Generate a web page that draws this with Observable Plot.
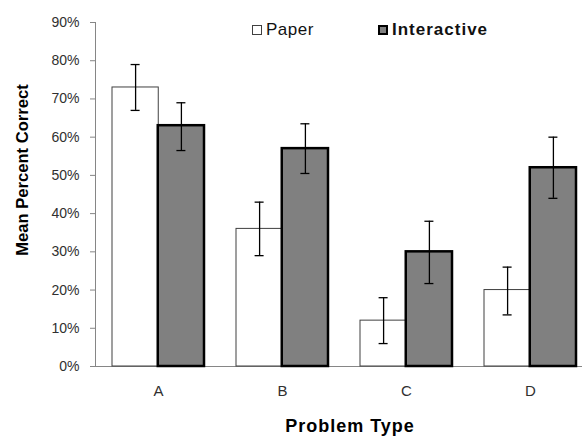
<!DOCTYPE html>
<html>
<head>
<meta charset="utf-8">
<script src="https://cdn.jsdelivr.net/npm/d3@7"></script>
<script src="https://cdn.jsdelivr.net/npm/@observablehq/plot@0.6"></script>
<style>
  body { margin: 0; background: #fff; font-family: Arial, "Liberation Sans", sans-serif; }
  #wrap { position: relative; width: 582px; height: 439px; overflow: hidden; background: #fff; }
  .lg { position: absolute; top: 21px; display: flex; align-items: center; font-size: 17px; line-height: 17px; color: #111; white-space: nowrap; }
  .sw { display: inline-block; width: 10px; height: 10px; box-sizing: border-box; margin-right: 4px; }
  .sw.paper { background: #fff; border: 1px solid #404040; }
  .sw.inter { background: #808080; border: 2px solid #000; }
  .ytitle { position: absolute; left: 22px; top: 170px; transform: translate(-50%, -50%) rotate(-90deg); font-size: 16.6px; font-weight: bold; line-height: 17px; white-space: nowrap; color: #000; }
  .xtitle { position: absolute; left: 350px; top: 416.8px; transform: translateX(-50%); font-size: 18px; letter-spacing: 1px; font-weight: bold; line-height: 18px; white-space: nowrap; color: #000; }
</style>
</head>
<body>
<div id="wrap">
  <div id="chart"></div>
  <div class="lg" style="left:252px;letter-spacing:0.5px"><span class="sw paper"></span>Paper</div>
  <div class="lg" style="left:378px;font-weight:bold;letter-spacing:1px"><span class="sw inter"></span>Interactive</div>
  <div class="ytitle">Mean Percent Correct</div>
  <div class="xtitle">Problem Type</div>
</div>
<script>
const categories = ["A", "B", "C", "D"];
const paper = [0.73, 0.36, 0.12, 0.20];
const paperLow = [0.67, 0.29, 0.06, 0.135];
const paperHigh = [0.79, 0.43, 0.18, 0.26];
const interactive = [0.63, 0.57, 0.30, 0.52];
const interactiveLow = [0.565, 0.505, 0.217, 0.44];
const interactiveHigh = [0.69, 0.635, 0.38, 0.60];
const yTicks = [0, 0.1, 0.2, 0.3, 0.4, 0.5, 0.6, 0.7, 0.8, 0.9];

const rows = categories.map((c, i) => ({
  cat: c,
  paper: paper[i], paperLow: paperLow[i], paperHigh: paperHigh[i],
  inter: interactive[i], interLow: interactiveLow[i], interHigh: interactiveHigh[i]
}));

const half = 45.75;   // half of band width
const off = 22.9;     // offset from band centre to each bar centre
const cap = 41.5;     // inset giving ~8.5px cap width

const chart = Plot.plot({
  width: 582,
  height: 439,
  marginLeft: 95,
  marginRight: 0,
  marginTop: 22,
  marginBottom: 73,
  style: { fontFamily: "Arial, 'Liberation Sans', sans-serif", background: "#fff" },
  x: { domain: categories, range: [95, 592.5], paddingInner: 0.262, paddingOuter: 0.137, label: null },
  y: { domain: [0, 0.9], label: null },
  marks: [
    Plot.frame({ anchor: "left", stroke: "#868686" }),
    Plot.ruleY([0], { stroke: "#868686", strokeWidth: 1 }),
    Plot.axisY({ ticks: yTicks, tickFormat: d3.format(".0%"), tickSize: 5, tickPadding: 11, fontSize: 14, stroke: "#868686", fill: "#303030", label: null }),
    Plot.axisX({ tickSize: 0, tickPadding: 18.5, fontSize: 15, fill: "#303030", label: null }),
    Plot.barY(rows, { x: "cat", y: "paper", fill: "#fff", stroke: "#404040", strokeWidth: 1, insetRight: half }),
    Plot.barY(rows, { x: "cat", y: "inter", fill: "#808080", stroke: "#000", strokeWidth: 2.5, insetLeft: half }),
    Plot.ruleX(rows, { x: "cat", y1: "paperLow", y2: "paperHigh", dx: -off, stroke: "#000", strokeWidth: 1.3 }),
    Plot.tickY(rows, { x: "cat", y: "paperLow", dx: -off, insetLeft: cap, insetRight: cap, stroke: "#000", strokeWidth: 1.3 }),
    Plot.tickY(rows, { x: "cat", y: "paperHigh", dx: -off, insetLeft: cap, insetRight: cap, stroke: "#000", strokeWidth: 1.3 }),
    Plot.ruleX(rows, { x: "cat", y1: "interLow", y2: "interHigh", dx: off, stroke: "#000", strokeWidth: 1.3 }),
    Plot.tickY(rows, { x: "cat", y: "interLow", dx: off, insetLeft: cap, insetRight: cap, stroke: "#000", strokeWidth: 1.3 }),
    Plot.tickY(rows, { x: "cat", y: "interHigh", dx: off, insetLeft: cap, insetRight: cap, stroke: "#000", strokeWidth: 1.3 })
  ]
});
document.getElementById("chart").appendChild(chart);
</script>
</body>
</html>
